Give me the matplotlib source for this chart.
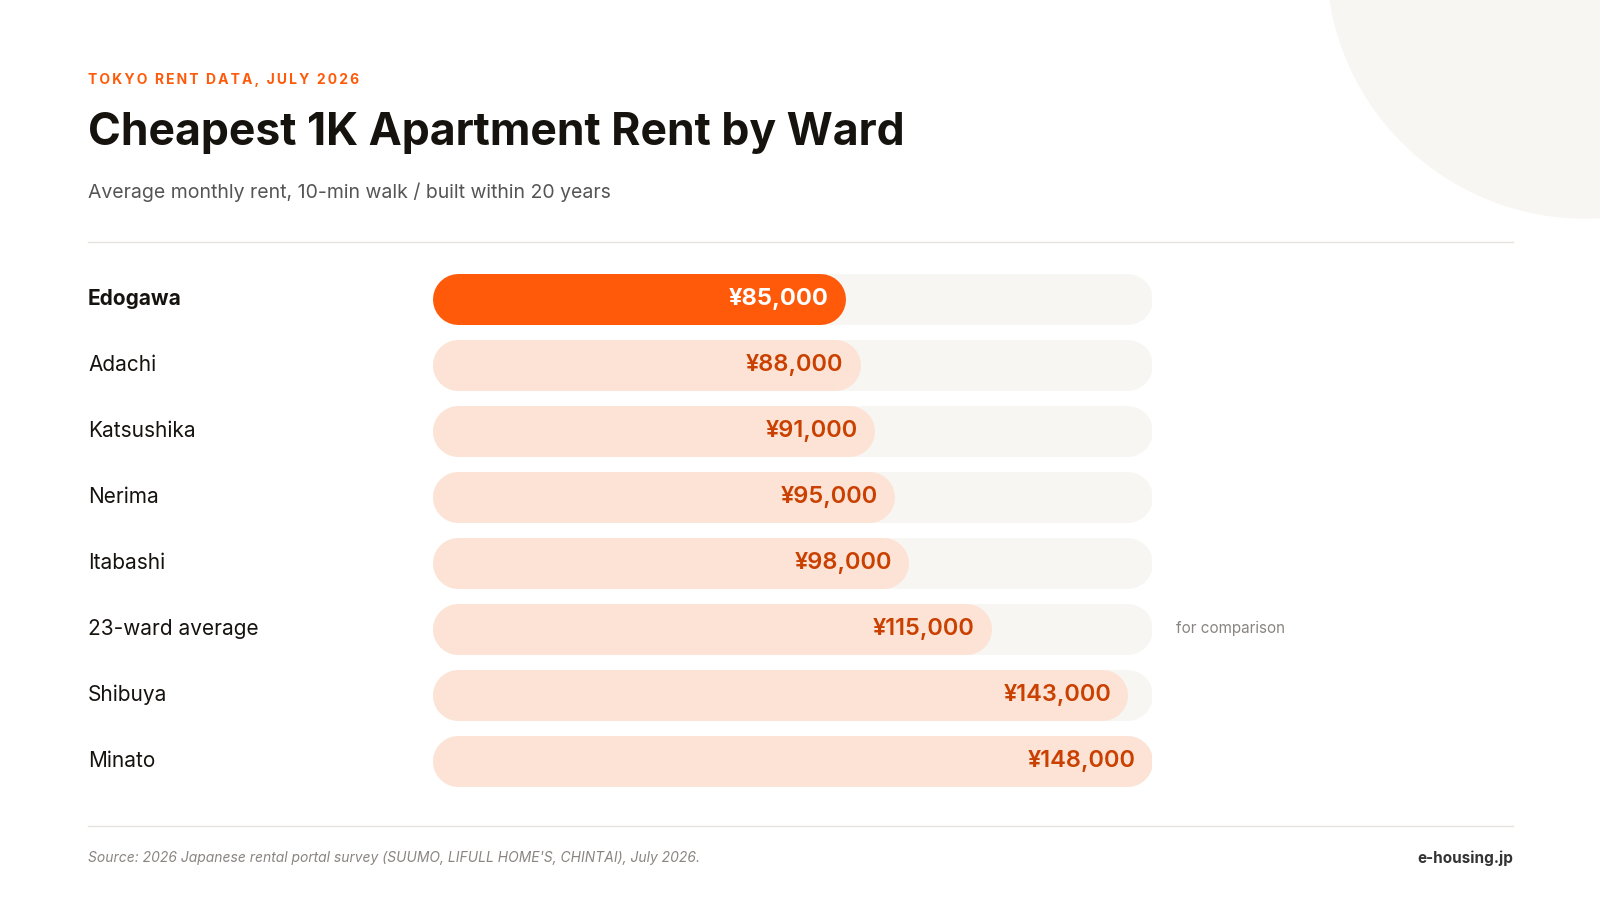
import matplotlib
matplotlib.use("Agg")
import matplotlib.pyplot as plt
from matplotlib.patches import Circle

plt.rcParams['font.family'] = ['Inter', 'DejaVu Sans']

wards = ['Edogawa', 'Adachi', 'Katsushika', 'Nerima', 'Itabashi',
         '23-ward average', 'Shibuya', 'Minato']
rents = [85000, 88000, 91000, 95000, 98000, 115000, 143000, 148000]
track_max = 148000

W, H = 1600, 900
fig = plt.figure(figsize=(16, 9), dpi=100)
fig.patch.set_facecolor('white')

# background layer in pixel coordinates
bg = fig.add_axes([0, 0, 1, 1])
bg.set_xlim(0, W)
bg.set_ylim(H, 0)
bg.axis('off')
bg.add_patch(Circle((1585, -40), 258, color='#F8F6F2', zorder=0))

# fake letter spacing with thin spaces
kicker = '\u2009'.join('TOKYO RENT DATA, JULY 2026')
bg.text(88, 80, kicker, color='#FF5A0A', fontsize=10, fontweight='bold', va='center')
bg.text(88, 133, 'Cheapest 1K Apartment Rent by Ward', color='#16130f', fontsize=32,
        fontweight='bold', va='center')
bg.text(88, 192, 'Average monthly rent, 10-min walk / built within 20 years',
        color='#555555', fontsize=14, va='center')
bg.plot([88, 1513], [242, 242], color='#e6e3de', lw=1)
bg.plot([88, 1513], [826, 826], color='#e6e3de', lw=1)
bg.text(88, 858, "Source: 2026 Japanese rental portal survey (SUUMO, LIFULL HOME'S, CHINTAI), July 2026.",
        color='#8a8580', fontsize=10, style='italic', va='center')
bg.text(1513, 858, 'e-housing.jp', color='#333333', fontsize=11, fontweight='bold',
        va='center', ha='right')

# bar axes
left, width = 432, 720
top, row_h, bar_h = 266, 66, 51
n = len(wards)
ax = fig.add_axes([left / W, (H - top - n * row_h) / H, width / W, n * row_h / H])
ax.set_xlim(0, track_max)
ax.set_ylim(n - 0.5, -0.5)
ax.axis('off')

lw_pt = bar_h * 72 / 100
cap = (bar_h / 2) * track_max / width


def pill(y, x1, color, z):
    ax.plot([cap, x1 - cap], [y, y], color=color, lw=lw_pt,
            solid_capstyle='round', zorder=z)


for i, (name, val) in enumerate(zip(wards, rents)):
    hi = i == 0
    pill(i, track_max, '#F8F6F2', 1)
    pill(i, val, '#FF5A0A' if hi else '#FDE3D5', 2)
    ax.text(val - cap * 0.65, i, f'¥{val:,}', ha='right', va='center', fontsize=17,
            fontweight='bold' if hi else 'semibold',
            color='white' if hi else '#C94000', zorder=3)
    ax.text(-(left - 88) * track_max / width, i, name, ha='left', va='center',
            fontsize=15, fontweight='bold' if hi else 'normal', color='#16130f')
    if name == '23-ward average':
        ax.text(track_max + 24 * track_max / width, i, 'for comparison', ha='left',
                va='center', fontsize=11, color='#8a8580')

fig.savefig('out.png', dpi=100)
